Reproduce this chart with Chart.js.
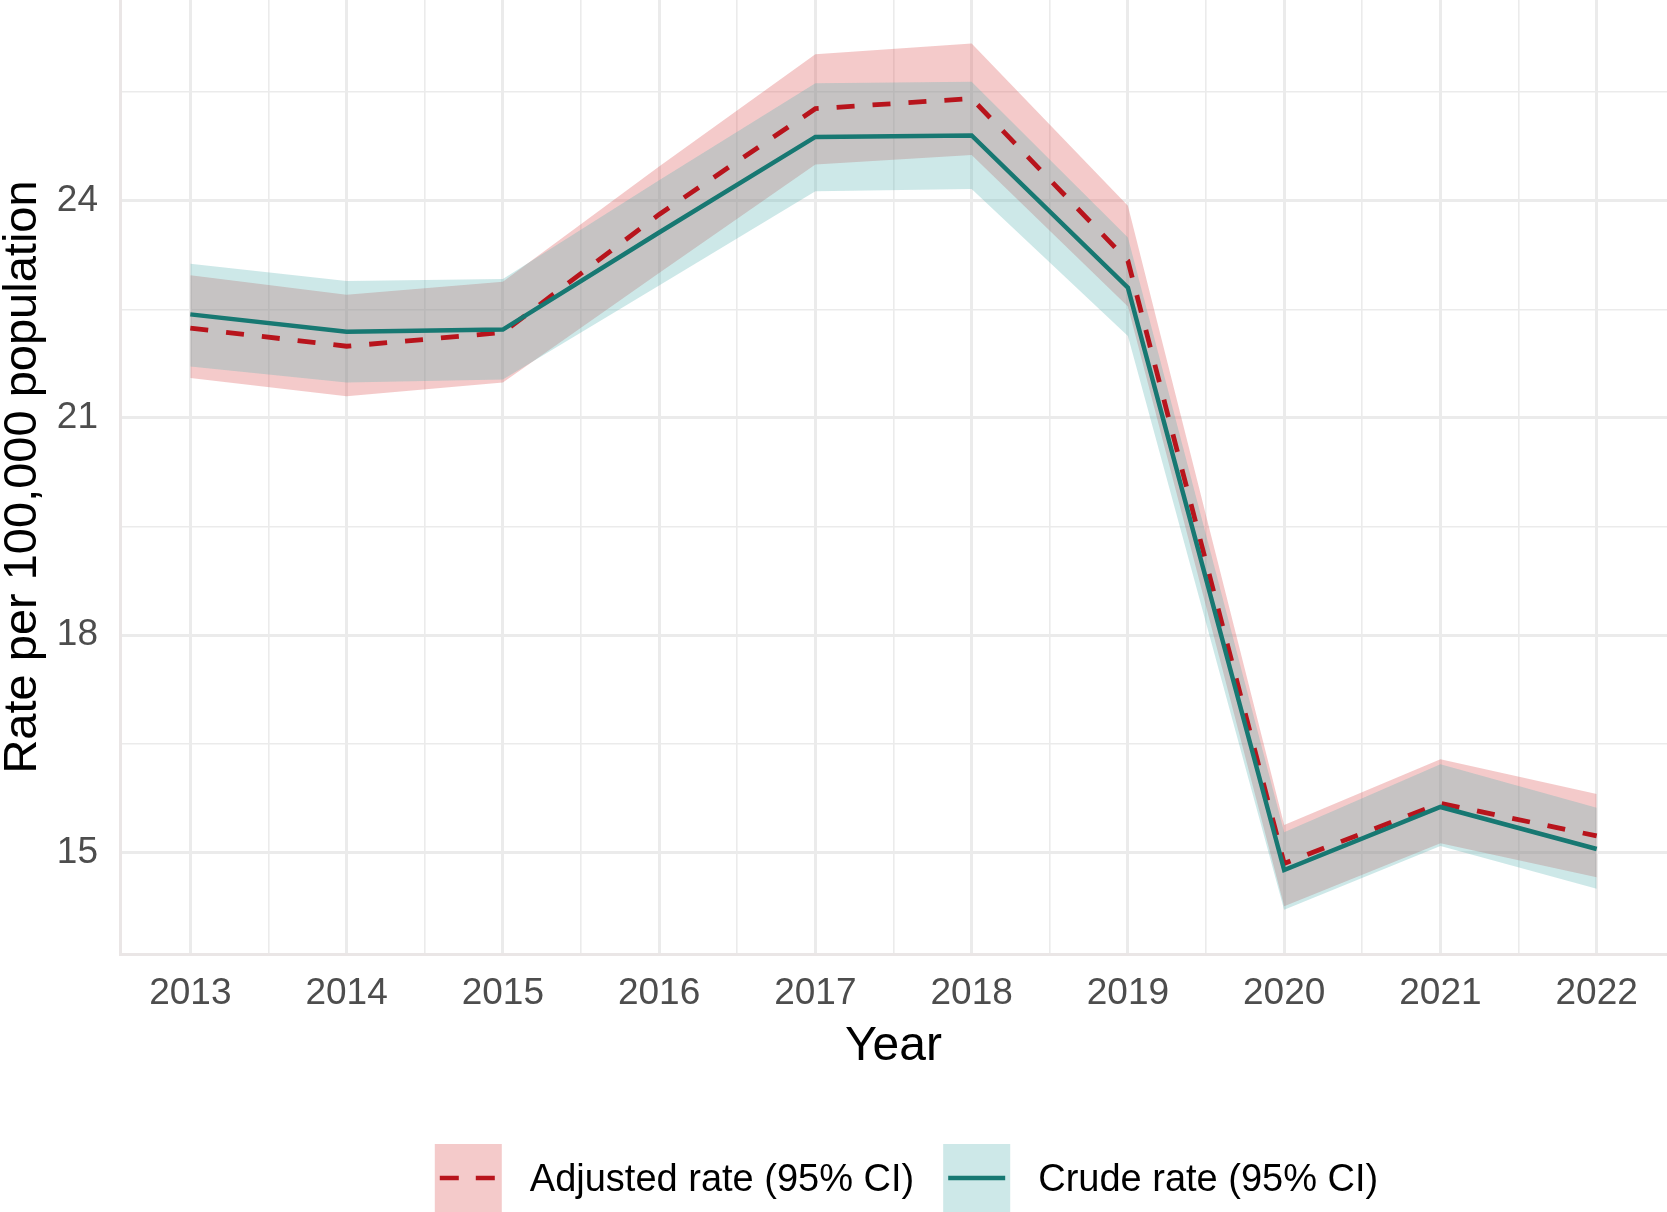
<!DOCTYPE html>
<html>
<head>
<meta charset="utf-8">
<script src="https://cdn.jsdelivr.net/npm/chart.js@4.4.1/dist/chart.umd.min.js"></script>
<style>
  html, body { margin: 0; padding: 0; background: #fff; }
  canvas { display: block; }
</style>
</head>
<body>
<canvas id="grafico" width="1667" height="1212"></canvas>
<script>
// Valores
const years = [2013, 2014, 2015, 2016, 2017, 2018, 2019, 2020, 2021, 2022];
const adjustedRate = [22.24, 21.99, 22.18, 23.81, 25.27, 25.41, 23.17, 14.85, 15.68, 15.23];
const adjustedLow  = [21.55, 21.30, 21.49, 23.00, 24.50, 24.63, 22.54, 14.26, 15.13, 14.66];
const adjustedHigh = [22.97, 22.70, 22.88, 24.47, 26.02, 26.17, 23.93, 15.38, 16.29, 15.81];
const crudeRate = [22.43, 22.19, 22.22, 23.56, 24.88, 24.90, 22.80, 14.76, 15.63, 15.05];
const crudeLow  = [21.71, 21.49, 21.53, 22.83, 24.13, 24.16, 22.13, 14.21, 15.09, 14.50];
const crudeHigh = [23.13, 22.89, 22.92, 24.28, 25.62, 25.64, 23.49, 15.28, 16.22, 15.62];
const yTickLabels = [15, 18, 21, 24];
const legendLabels = ['Adjusted rate (95% CI)', 'Crude rate (95% CI)'];

// Colores
const rojo = '#B8141C';
const verde = '#177872';
const rosa = 'rgba(220, 80, 80, 0.3)';
const cian = 'rgba(90, 178, 178, 0.3)';
const fuente = '"Liberation Sans", Arial, Helvetica, sans-serif';

const puntos = vals => years.map((y, i) => ({ x: y, y: vals[i] }));

const banda = (vals, color, fill) => ({
    data: puntos(vals),
    borderColor: 'rgba(0,0,0,0)',
    borderWidth: 0,
    backgroundColor: color,
    pointRadius: 0,
    tension: 0,
    fill: fill
});

// Leyenda dibujada a mano (caja sombreada + linea)
const leyendaPlugin = {
    id: 'leyendaRibbon',
    afterDraw(chart) {
        const ctx = chart.ctx;
        const area = chart.chartArea;
        const keyW = 67, keyH = 68;
        const yKey = chart.height - keyH;
        const yMid = yKey + keyH / 2;
        ctx.save();
        ctx.font = '38px ' + fuente;
        const w1 = ctx.measureText(legendLabels[0]).width;
        const w2 = ctx.measureText(legendLabels[1]).width;
        const total = keyW + 28 + w1 + 29 + keyW + 28 + w2;
        let x = (area.left + area.right) / 2 + 13 - total / 2;

        const items = [
            { fill: rosa, color: rojo, dash: [19, 17], text: legendLabels[0], w: w1 },
            { fill: cian, color: verde, dash: [], text: legendLabels[1], w: w2 }
        ];
        items.forEach(it => {
            ctx.fillStyle = '#fff';
            ctx.fillRect(x, yKey, keyW, keyH);
            ctx.fillStyle = it.fill;
            ctx.fillRect(x, yKey, keyW, keyH);
            ctx.strokeStyle = it.color;
            ctx.lineWidth = 4.5;
            ctx.setLineDash(it.dash);
            ctx.beginPath();
            ctx.moveTo(x + 5, yMid);
            ctx.lineTo(x + keyW - 5, yMid);
            ctx.stroke();
            ctx.setLineDash([]);
            ctx.fillStyle = '#000';
            ctx.textBaseline = 'middle';
            ctx.textAlign = 'left';
            ctx.fillText(it.text, x + keyW + 28, yMid + 3);
            x += keyW + 28 + it.w + 29;
        });
        ctx.restore();
    }
};

const grafico = new Chart(document.getElementById('grafico'), {
    type: 'line',
    data: {
        datasets: [
            {
                label: legendLabels[1],
                data: puntos(crudeRate),
                borderColor: verde,
                borderWidth: 4.5,
                pointRadius: 0,
                tension: 0,
                fill: false
            },
            {
                label: legendLabels[0],
                data: puntos(adjustedRate),
                borderColor: rojo,
                borderWidth: 4.8,
                borderDash: [18, 18],
                pointRadius: 0,
                tension: 0,
                fill: false
            },
            banda(crudeHigh, cian, '+1'),
            banda(crudeLow, cian, false),
            banda(adjustedHigh, rosa, '+1'),
            banda(adjustedLow, rosa, false)
        ]
    },
    options: {
        responsive: false,
        animation: false,
        devicePixelRatio: 1,
        layout: { padding: { left: 0, right: 0, top: 0, bottom: 138 } },
        plugins: {
            legend: { display: false },
            tooltip: { enabled: false }
        },
        scales: {
            x: {
                type: 'linear',
                min: 2012.55,
                max: 2022.45,
                ticks: {
                    stepSize: 0.5,
                    includeBounds: false,
                    autoSkip: false,
                    maxRotation: 0,
                    minRotation: 0,
                    padding: 18,
                    color: '#4D4D4D',
                    font: { family: fuente, size: 37 },
                    callback: v => Number.isInteger(v) ? String(v) : ''
                },
                grid: {
                    color: '#EBEBEB',
                    lineWidth: c => (c.tick && Number.isInteger(c.tick.value)) ? 3 : 1.6,
                    drawTicks: false
                },
                border: { display: true, color: '#EAE6E6', width: 3 },
                title: {
                    display: true,
                    text: 'Year',
                    color: '#000',
                    font: { family: fuente, size: 48, lineHeight: 1 },
                    padding: { top: 0, bottom: 3 }
                },
                afterFit: s => {
                    s.height = 120;
                    s.paddingLeft = 0;
                    s.paddingRight = 0;
                }
            },
            y: {
                type: 'linear',
                min: 13.6,
                max: 26.77,
                ticks: {
                    stepSize: 1.5,
                    includeBounds: false,
                    padding: 22,
                    color: '#4D4D4D',
                    font: { family: fuente, size: 37 },
                    callback: v => yTickLabels.includes(v) ? String(v) : ''
                },
                grid: {
                    color: '#EBEBEB',
                    lineWidth: c => (c.tick && yTickLabels.includes(c.tick.value)) ? 3 : 1.6,
                    drawTicks: false
                },
                border: { display: true, color: '#EAE6E6', width: 3 },
                title: {
                    display: true,
                    text: 'Rate per 100,000 population',
                    color: '#000',
                    font: { family: fuente, size: 47, lineHeight: 1 },
                    padding: { top: 0, bottom: 0 }
                },
                afterFit: s => {
                    s.width = 120;
                    s.paddingTop = 0;
                    s.paddingBottom = 0;
                }
            }
        }
    },
    plugins: [leyendaPlugin]
});
</script>
</body>
</html>
